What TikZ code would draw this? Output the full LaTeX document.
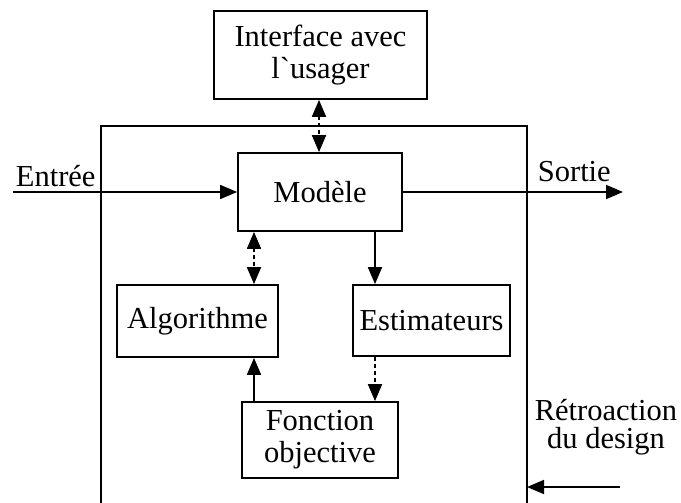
\documentclass[tikz,border=0pt]{standalone}
\usepackage{fontspec}
\setmainfont{Liberation Serif}
\usetikzlibrary{arrows.meta}
\begin{document}
\begin{tikzpicture}[x=1pt,y=-1pt,
  line width=1.8pt,
  font=\fontsize{30.5}{32}\selectfont,
  box/.style={draw,rectangle,inner sep=0pt,align=center},
  tip/.style={-{Triangle[length=17pt,width=14pt]}},
  twotip/.style={{Triangle[length=17pt,width=14pt]}-{Triangle[length=17pt,width=14pt]}},
  dashline/.style={dash pattern=on 4pt off 3pt}]
\useasboundingbox (0,0) rectangle (681,503);

% system boundary (open at the bottom)
\draw (101,503) -- (101,126) -- (527,126) -- (527,503);

% blocks
\node[box,minimum width=213pt,minimum height=88pt] (ui) at (320.5,55) {Interface avec\\l\textasciigrave usager};
\node[box,minimum width=164pt,minimum height=78pt] (mod) at (320,192) {Modèle};
\node[box,minimum width=161pt,minimum height=72pt] (alg) at (197.5,321) {Algorithme};
\node[box,minimum width=157pt,minimum height=71pt] (est) at (431.5,320.5) {Estimateurs};
\node[box,minimum width=156pt,minimum height=76pt] (fob) at (320,440) {Fonction\\objective};

% free ends of the input / output connectors
\coordinate (in) at (13,192);
\coordinate (out) at (623,192);
\coordinate (fbstart) at (620,487);
\coordinate (fbend) at (527,487);

% labels
\node[anchor=base west,inner sep=0pt] (inlab) at (15,186) {Entrée};
\node[anchor=base west,inner sep=0pt] (outlab) at (537,182) {Sortie};
\node[anchor=base,inner sep=0pt,align=center,font=\fontsize{30.5}{28}\selectfont] (fblab) at (606,448) {Rétroaction\\du design};

% connectors
\draw[tip] (in) -- (mod.west);
\draw[tip] (mod.east) -- (out);
\draw[twotip,dashline] (ui.south -| 319,0) -- (mod.north -| 319,0);
\draw[twotip,dashline] (mod.south -| 254,0) -- (alg.north -| 254,0);
\draw[tip] (mod.south -| 375,0) -- (est.north -| 375,0);
\draw[tip,dashline] (est.south -| 375,0) -- (fob.north -| 375,0);
\draw[tip] (fob.north -| 254,0) -- (alg.south -| 254,0);
\draw[tip] (fbstart) -- (fbend);
\end{tikzpicture}
\end{document}
